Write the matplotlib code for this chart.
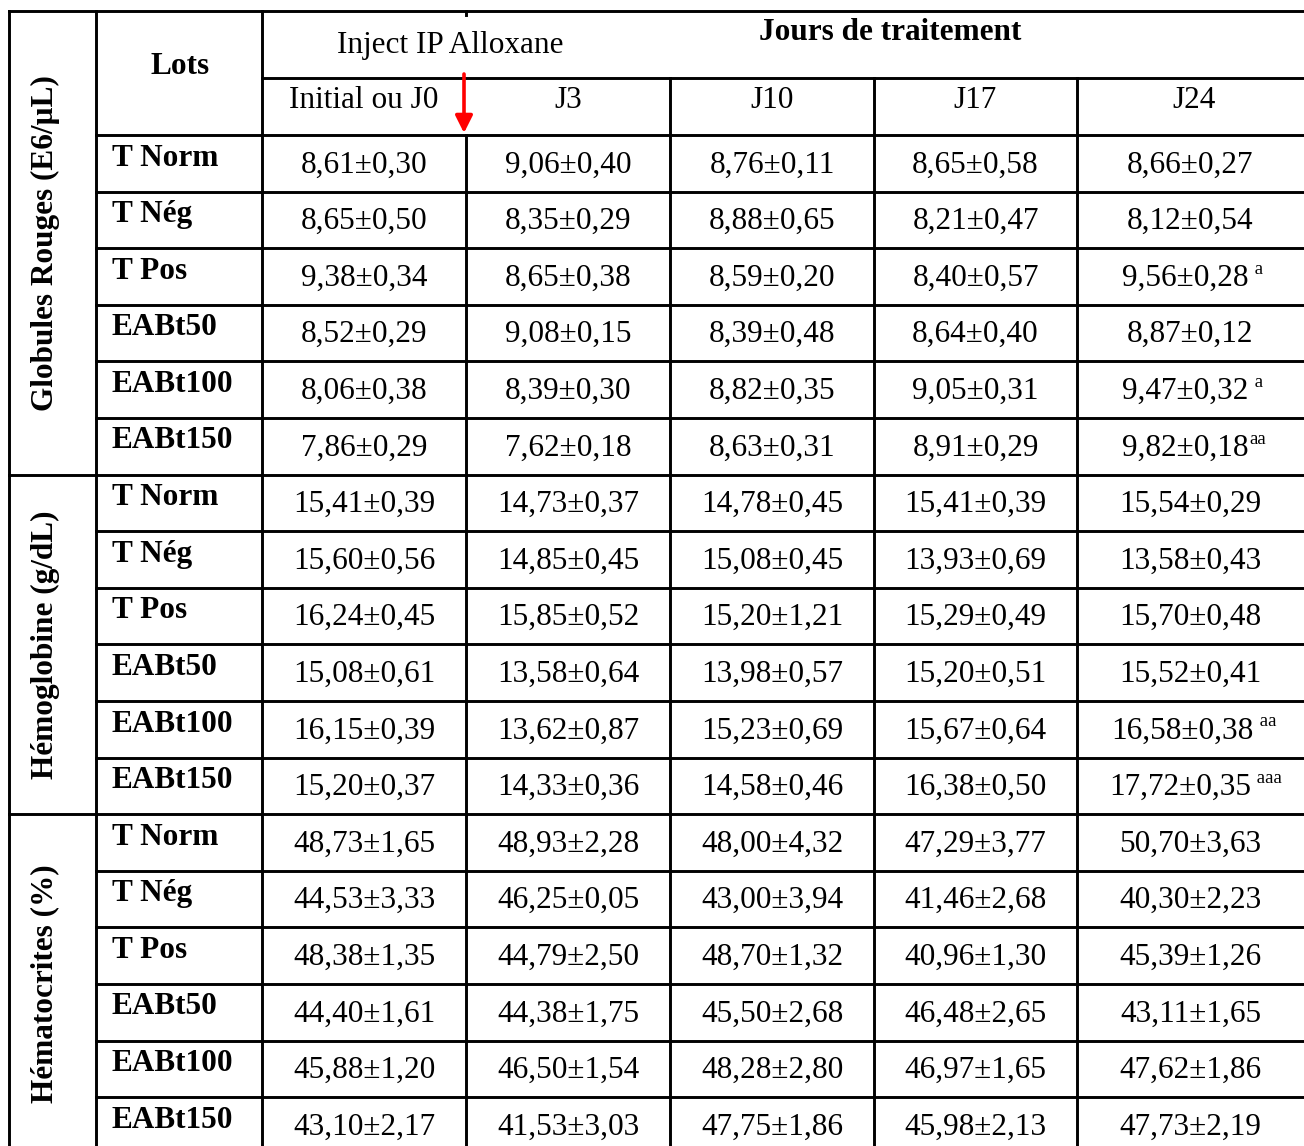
import matplotlib
matplotlib.use("Agg")
import matplotlib.pyplot as plt

# ---- data ----
lots = ["T Norm", "T Nég", "T Pos", "EABt50", "EABt100", "EABt150"]
days = ["Initial ou J0", "J3", "J10", "J17", "J24"]
groups = ["Globules Rouges (E6/µL)", "Hémoglobine (g/dL)", "Hématocrites (%)"]

gr_mean = [[8.61, 9.06, 8.76, 8.65, 8.66],
           [8.65, 8.35, 8.88, 8.21, 8.12],
           [9.38, 8.65, 8.59, 8.40, 9.56],
           [8.52, 9.08, 8.39, 8.64, 8.87],
           [8.06, 8.39, 8.82, 9.05, 9.47],
           [7.86, 7.62, 8.63, 8.91, 9.82]]
gr_sd = [[0.30, 0.40, 0.11, 0.58, 0.27],
         [0.50, 0.29, 0.65, 0.47, 0.54],
         [0.34, 0.38, 0.20, 0.57, 0.28],
         [0.29, 0.15, 0.48, 0.40, 0.12],
         [0.38, 0.30, 0.35, 0.31, 0.32],
         [0.29, 0.18, 0.31, 0.29, 0.18]]
gr_sup = {(2, 4): " a", (4, 4): " a", (5, 4): "aa"}

hb_mean = [[15.41, 14.73, 14.78, 15.41, 15.54],
           [15.60, 14.85, 15.08, 13.93, 13.58],
           [16.24, 15.85, 15.20, 15.29, 15.70],
           [15.08, 13.58, 13.98, 15.20, 15.52],
           [16.15, 13.62, 15.23, 15.67, 16.58],
           [15.20, 14.33, 14.58, 16.38, 17.72]]
hb_sd = [[0.39, 0.37, 0.45, 0.39, 0.29],
         [0.56, 0.45, 0.45, 0.69, 0.43],
         [0.45, 0.52, 1.21, 0.49, 0.48],
         [0.61, 0.64, 0.57, 0.51, 0.41],
         [0.39, 0.87, 0.69, 0.64, 0.38],
         [0.37, 0.36, 0.46, 0.50, 0.35]]
hb_sup = {(4, 4): " aa", (5, 4): " aaa"}

ht_mean = [[48.73, 48.93, 48.00, 47.29, 50.70],
           [44.53, 46.25, 43.00, 41.46, 40.30],
           [48.38, 44.79, 48.70, 40.96, 45.39],
           [44.40, 44.38, 45.50, 46.48, 43.11],
           [45.88, 46.50, 48.28, 46.97, 47.62],
           [43.10, 41.53, 47.75, 45.98, 47.73]]
ht_sd = [[1.65, 2.28, 4.32, 3.77, 3.63],
         [3.33, 0.05, 3.94, 2.68, 2.23],
         [1.35, 2.50, 1.32, 1.30, 1.26],
         [1.61, 1.75, 2.68, 2.65, 1.65],
         [1.20, 1.54, 2.80, 1.65, 1.86],
         [2.17, 3.03, 1.86, 2.13, 2.19]]
ht_sup = {}

# ---- layout ----
W, H = 1304, 1146
fig = plt.figure(figsize=(W / 100, H / 100), dpi=100)
ax = fig.add_axes([0, 0, 1, 1])
ax.set_xlim(0, W)
ax.set_ylim(H, 0)
ax.axis("off")

serif = ["Liberation Serif", "DejaVu Serif"]
FS = 22.5
LW = 2.1
col_x = [9, 96, 262, 466, 670, 874, 1077, 1304]
y_top, y_h2, y_data = 11, 78, 135
row_h = 56.6
n_rows = 18


def fmt(v):
    return f"{v:.2f}".replace(".", ",")


def hline(y, x0, x1):
    ax.plot([x0, x1], [y, y], color="black", lw=LW, solid_capstyle="projecting")


def vline(x, y0, y1):
    ax.plot([x, x], [y0, y1], color="black", lw=LW, solid_capstyle="projecting")


# grid lines
hline(y_top, col_x[0], W)
hline(y_h2, col_x[2], W)
hline(y_data, col_x[1], W)
for i in range(1, n_rows):
    y = y_data + i * row_h
    if i % 6 == 0:
        hline(y, col_x[0], W)
    else:
        hline(y, col_x[1], W)
vline(col_x[0], y_top, H)
vline(col_x[1], y_top, H)
vline(col_x[2], y_top, H)
vline(col_x[3], y_top, y_top + 4)
vline(col_x[3], y_data, H)
for x in col_x[4:7]:
    vline(x, y_h2, H)

# header texts
ax.text(180, 66, "Lots", fontsize=FS, fontweight="bold", family=serif,
        ha="center", va="center")
ax.text(450, 45, "Inject IP Alloxane", fontsize=FS, family=serif,
        ha="center", va="center")
ax.text(890, 32, "Jours de traitement", fontsize=FS, fontweight="bold",
        family=serif, ha="center", va="center")
day_cx = [364, 568, 772, 975, 1194]
for d, cx in zip(days, day_cx):
    ax.text(cx, 100, d, fontsize=FS, family=serif, ha="center", va="center")

# red arrow
ax.annotate("", xy=(464, 133), xytext=(464, 74),
            arrowprops=dict(arrowstyle="-|>", color="#ff0000", lw=2.6,
                            mutation_scale=26, shrinkA=0, shrinkB=0))

renderer = fig.canvas.get_renderer()
data_sets = [(gr_mean, gr_sd, gr_sup), (hb_mean, hb_sd, hb_sup),
             (ht_mean, ht_sd, ht_sup)]
for g, (means, sds, sups) in enumerate(data_sets):
    g_top = y_data + g * 6 * row_h
    g_bot = g_top + 6 * row_h
    lab_top = y_top if g == 0 else g_top
    ax.text(45, (lab_top + g_bot) / 2, groups[g], fontsize=FS,
            fontweight="bold", family=serif, rotation=90,
            ha="center", va="center")
    for r in range(6):
        rt = g_top + r * row_h
        ax.text(112, rt + 23, lots[r], fontsize=FS, fontweight="bold",
                family=serif, ha="left", va="center")
        for c in range(5):
            cx = (col_x[c + 2] + col_x[c + 3]) / 2
            s = fmt(means[r][c]) + "±" + fmt(sds[r][c])
            sup = sups.get((r, c))
            if sup:
                sw = len(sup) * 8.5
                cx_main = cx - sw * 0.3
                t = ax.text(cx_main, rt + 30, s, fontsize=FS, family=serif,
                            ha="center", va="center")
                bb = t.get_window_extent(renderer=renderer)
                x_right = bb.x1
                ax.text(x_right + 1, rt + 21, sup, fontsize=FS * 0.6,
                        family=serif, ha="left", va="center")
            else:
                ax.text(cx, rt + 30, s, fontsize=FS, family=serif,
                        ha="center", va="center")

fig.savefig("out.png", dpi=100)
